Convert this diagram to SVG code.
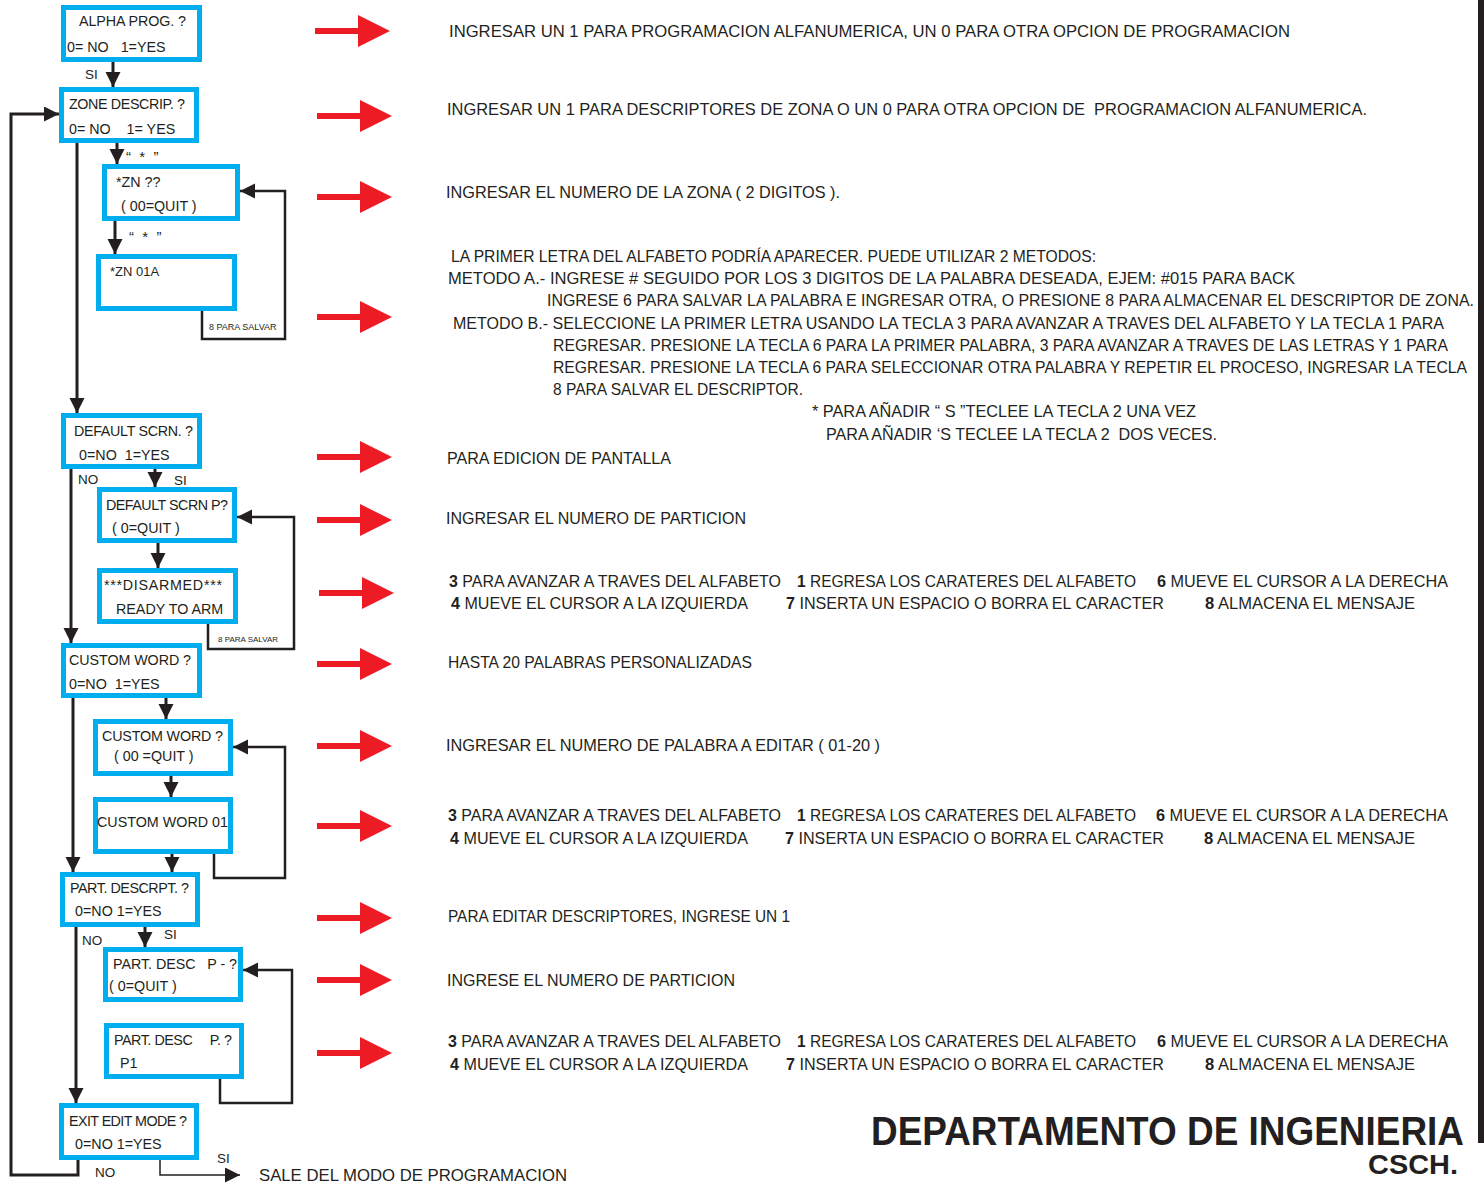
<svg xmlns="http://www.w3.org/2000/svg" xmlns:xlink="http://www.w3.org/1999/xlink" width="1484" height="1183" viewBox="0 0 1484 1183">
<style>
.box{fill:#fff;stroke:#00aeef;stroke-width:5}
.bt{font-family:"Liberation Sans",Arial,sans-serif;font-size:14.3px;fill:#231f20;white-space:pre}
.lbl{font-family:"Liberation Sans",Arial,sans-serif;font-size:13.5px;fill:#231f20;white-space:pre}
.sm{font-family:"Liberation Sans",Arial,sans-serif;font-size:9px;fill:#231f20}
.rt{font-family:"Liberation Sans",Arial,sans-serif;font-size:16.5px;fill:#231f20;white-space:pre}
.b{font-weight:bold}
.ln{fill:none;stroke:#231f20;stroke-width:3;marker-end:url(#ah)}
.lp{fill:none;stroke:#231f20;stroke-width:2.5;marker-end:url(#ah)}
.ttl{font-family:"Liberation Sans",Arial,sans-serif;font-weight:bold;fill:#231f20}
</style>
<defs>
<marker id="ah" markerWidth="16" markerHeight="16" refX="15" refY="7.5" orient="auto" markerUnits="userSpaceOnUse"><path d="M0,0 L15,7.5 L0,15 z" fill="#231f20"/></marker>
<path id="ra" d="M0,-3 L43,-3 L43,-16 L75,0 L43,16 L43,3 L0,3 z" fill="#ed1c24"/>
</defs>
<rect width="1484" height="1183" fill="#fff"/>
<rect x="1478" y="0" width="6" height="1143" fill="#231f20"/>

<g id="connectors">
<path class="ln" d="M113,62 V87"/>
<path class="ln" d="M117,143 V164"/>
<path class="ln" d="M115,221 V254"/>
<path class="lp" d="M202,311 V339 H285 V191 H240"/>
<path class="ln" d="M77,143 V413"/>
<path class="ln" d="M155,469 V487"/>
<path class="ln" d="M71,469 V643"/>
<path class="ln" d="M158,543 V568"/>
<path class="lp" d="M208,624 V649 H294 V517 H237"/>
<path class="ln" d="M166,698 V719"/>
<path class="ln" d="M73,698 V872"/>
<path class="ln" d="M171,776 V797"/>
<path class="ln" d="M172,854 V872"/>
<path class="lp" d="M214,854 V878 H285 V747 H233"/>
<path class="ln" d="M145,927 V947"/>
<path class="ln" d="M76,927 V1103"/>
<path class="lp" d="M220,1079 V1103 H292 V970 H243"/>
<path class="ln" d="M78,1160 V1175 H11 V114 H59"/>
<path fill="none" stroke="#231f20" stroke-width="1.5" marker-end="url(#ah)" d="M160,1160 V1175 H240"/>
<text class="lbl" x="85" y="79">SI</text>
<text class="lbl" x="126" y="162" style="font-size:15px">“  *  ”</text>
<text class="lbl" x="129" y="242" style="font-size:15px">“  *  ”</text>
<text class="sm" x="209" y="330">8 PARA SALVAR</text>
<text class="lbl" x="78" y="484">NO</text>
<text class="lbl" x="174" y="485">SI</text>
<text class="sm" x="218" y="642" style="font-size:8px">8 PARA SALVAR</text>
<text class="lbl" x="164" y="939">SI</text>
<text class="lbl" x="82" y="945">NO</text>
<text class="lbl" x="95" y="1177">NO</text>
<text class="lbl" x="217" y="1163">SI</text>
</g>

<g id="n1"><rect class="box" x="63.5" y="7.5" width="136" height="52"/><text class="bt" x="79" y="26" textLength="107">ALPHA PROG. ?</text><text class="bt" x="67" y="52">0= NO   1=YES</text></g>
<g id="n2"><rect class="box" x="61.5" y="89.5" width="135" height="51"/><text class="bt" x="69" y="109" textLength="116">ZONE DESCRIP. ?</text><text class="bt" x="69" y="134">0= NO    1= YES</text></g>
<g id="n3"><rect class="box" x="104.5" y="166.5" width="133" height="52"/><text class="bt" x="116" y="187">*ZN ??</text><text class="bt" x="121" y="211">( 00=QUIT )</text></g>
<g id="n4"><rect class="box" x="98.5" y="256.5" width="136" height="52"/><text class="bt" x="110" y="276" style="font-size:13px">*ZN 01A</text></g>
<g id="n5"><rect class="box" x="63.5" y="415.5" width="136" height="51"/><text class="bt" x="74" y="436" textLength="119">DEFAULT SCRN. ?</text><text class="bt" x="79" y="460">0=NO  1=YES</text></g>
<g id="n6"><rect class="box" x="99.5" y="489.5" width="135" height="51"/><text class="bt" x="106" y="510" textLength="122">DEFAULT SCRN P?</text><text class="bt" x="112" y="533">( 0=QUIT )</text></g>
<g id="n7"><rect class="box" x="99.5" y="570.5" width="136" height="51"/><text class="bt" x="104" y="590" textLength="118">***DISARMED***</text><text class="bt" x="116" y="614">READY TO ARM</text></g>
<g id="n8"><rect class="box" x="63.5" y="645.5" width="136" height="50"/><text class="bt" x="69" y="665" textLength="122">CUSTOM WORD ?</text><text class="bt" x="69" y="689">0=NO  1=YES</text></g>
<g id="n9"><rect class="box" x="95.5" y="721.5" width="135" height="52"/><text class="bt" x="102" y="741" textLength="121">CUSTOM WORD ?</text><text class="bt" x="114" y="761">( 00 =QUIT )</text></g>
<g id="n10"><rect class="box" x="95.5" y="799.5" width="135" height="52"/><text class="bt" x="97" y="827" textLength="131">CUSTOM WORD 01</text></g>
<g id="n11"><rect class="box" x="62.5" y="874.5" width="135" height="50"/><text class="bt" x="70" y="893" textLength="119">PART. DESCRPT. ?</text><text class="bt" x="75" y="916">0=NO 1=YES</text></g>
<g id="n12"><rect class="box" x="105.5" y="949.5" width="135" height="50"/><text class="bt" x="113" y="969" textLength="124">PART. DESC   P - ?</text><text class="bt" x="109" y="991">( 0=QUIT )</text></g>
<g id="n13"><rect class="box" x="106.5" y="1025.5" width="135" height="51"/><text class="bt" x="114" y="1045" textLength="118">PART. DESC     P. ?</text><text class="bt" x="120" y="1068">P1</text></g>
<g id="n14"><rect class="box" x="61.5" y="1105.5" width="135" height="52"/><text class="bt" x="69" y="1126" textLength="118">EXIT EDIT MODE ?</text><text class="bt" x="75" y="1149">0=NO 1=YES</text></g>

<g id="red-arrows">
<use xlink:href="#ra" x="315" y="31"/>
<use xlink:href="#ra" x="317" y="116"/>
<use xlink:href="#ra" x="317" y="197"/>
<use xlink:href="#ra" x="317" y="317"/>
<use xlink:href="#ra" x="317" y="457"/>
<use xlink:href="#ra" x="317" y="520"/>
<use xlink:href="#ra" x="319" y="593"/>
<use xlink:href="#ra" x="317" y="664"/>
<use xlink:href="#ra" x="317" y="746"/>
<use xlink:href="#ra" x="317" y="826"/>
<use xlink:href="#ra" x="317" y="918"/>
<use xlink:href="#ra" x="317" y="980"/>
<use xlink:href="#ra" x="317" y="1053"/>
</g>

<g id="notes">
<text class="rt" x="449" y="37" textLength="841" lengthAdjust="spacingAndGlyphs">INGRESAR UN 1 PARA PROGRAMACION ALFANUMERICA, UN 0 PARA OTRA OPCION DE PROGRAMACION</text>
<text class="rt" x="447" y="115" textLength="920" lengthAdjust="spacingAndGlyphs">INGRESAR UN 1 PARA DESCRIPTORES DE ZONA O UN 0 PARA OTRA OPCION DE  PROGRAMACION ALFANUMERICA.</text>
<text class="rt" x="446" y="198" textLength="394" lengthAdjust="spacingAndGlyphs">INGRESAR EL NUMERO DE LA ZONA ( 2 DIGITOS ).</text>
<text class="rt" x="451" y="262" textLength="645" lengthAdjust="spacingAndGlyphs">LA PRIMER LETRA DEL ALFABETO PODRÍA APARECER. PUEDE UTILIZAR 2 METODOS:</text>
<text class="rt" x="448" y="284" textLength="847" lengthAdjust="spacingAndGlyphs">METODO A.- INGRESE # SEGUIDO POR LOS 3 DIGITOS DE LA PALABRA DESEADA, EJEM: #015 PARA BACK</text>
<text class="rt" x="547" y="306" textLength="927" lengthAdjust="spacingAndGlyphs">INGRESE 6 PARA SALVAR LA PALABRA E INGRESAR OTRA, O PRESIONE 8 PARA ALMACENAR EL DESCRIPTOR DE ZONA.</text>
<text class="rt" x="453" y="329" textLength="991" lengthAdjust="spacingAndGlyphs">METODO B.- SELECCIONE LA PRIMER LETRA USANDO LA TECLA 3 PARA AVANZAR A TRAVES DEL ALFABETO Y LA TECLA 1 PARA</text>
<text class="rt" x="553" y="351" textLength="895" lengthAdjust="spacingAndGlyphs">REGRESAR. PRESIONE LA TECLA 6 PARA LA PRIMER PALABRA, 3 PARA AVANZAR A TRAVES DE LAS LETRAS Y 1 PARA</text>
<text class="rt" x="553" y="373" textLength="914" lengthAdjust="spacingAndGlyphs">REGRESAR. PRESIONE LA TECLA 6 PARA SELECCIONAR OTRA PALABRA Y REPETIR EL PROCESO, INGRESAR LA TECLA</text>
<text class="rt" x="553" y="395" textLength="250" lengthAdjust="spacingAndGlyphs">8 PARA SALVAR EL DESCRIPTOR.</text>
<text class="rt" x="812" y="417" textLength="384" lengthAdjust="spacingAndGlyphs">* PARA AÑADIR “ S ”TECLEE LA TECLA 2 UNA VEZ</text>
<text class="rt" x="826" y="440" textLength="391" lengthAdjust="spacingAndGlyphs">PARA AÑADIR ‘S TECLEE LA TECLA 2  DOS VECES.</text>
<text class="rt" x="447" y="464" textLength="224" lengthAdjust="spacingAndGlyphs">PARA EDICION DE PANTALLA</text>
<text class="rt" x="446" y="524" textLength="300" lengthAdjust="spacingAndGlyphs">INGRESAR EL NUMERO DE PARTICION</text>

<text class="rt" x="449" y="587" textLength="332" lengthAdjust="spacingAndGlyphs"><tspan class="b">3</tspan> PARA AVANZAR A TRAVES DEL ALFABETO</text>
<text class="rt" x="797" y="587" textLength="339" lengthAdjust="spacingAndGlyphs"><tspan class="b">1</tspan> REGRESA LOS CARATERES DEL ALFABETO</text>
<text class="rt" x="1157" y="587" textLength="291" lengthAdjust="spacingAndGlyphs"><tspan class="b">6</tspan> MUEVE EL CURSOR A LA DERECHA</text>
<text class="rt" x="451" y="609" textLength="297" lengthAdjust="spacingAndGlyphs"><tspan class="b">4</tspan> MUEVE EL CURSOR A LA IZQUIERDA</text>
<text class="rt" x="786" y="609" textLength="378" lengthAdjust="spacingAndGlyphs"><tspan class="b">7</tspan> INSERTA UN ESPACIO O BORRA EL CARACTER</text>
<text class="rt" x="1205" y="609" textLength="210" lengthAdjust="spacingAndGlyphs"><tspan class="b">8</tspan> ALMACENA EL MENSAJE</text>

<text class="rt" x="448" y="668" textLength="304" lengthAdjust="spacingAndGlyphs">HASTA 20 PALABRAS PERSONALIZADAS</text>
<text class="rt" x="446" y="751" textLength="434" lengthAdjust="spacingAndGlyphs">INGRESAR EL NUMERO DE PALABRA A EDITAR ( 01-20 )</text>

<text class="rt" x="448" y="821" textLength="333" lengthAdjust="spacingAndGlyphs"><tspan class="b">3</tspan> PARA AVANZAR A TRAVES DEL ALFABETO</text>
<text class="rt" x="797" y="821" textLength="339" lengthAdjust="spacingAndGlyphs"><tspan class="b">1</tspan> REGRESA LOS CARATERES DEL ALFABETO</text>
<text class="rt" x="1156" y="821" textLength="292" lengthAdjust="spacingAndGlyphs"><tspan class="b">6</tspan> MUEVE EL CURSOR A LA DERECHA</text>
<text class="rt" x="450" y="844" textLength="298" lengthAdjust="spacingAndGlyphs"><tspan class="b">4</tspan> MUEVE EL CURSOR A LA IZQUIERDA</text>
<text class="rt" x="785" y="844" textLength="379" lengthAdjust="spacingAndGlyphs"><tspan class="b">7</tspan> INSERTA UN ESPACIO O BORRA EL CARACTER</text>
<text class="rt" x="1204" y="844" textLength="211" lengthAdjust="spacingAndGlyphs"><tspan class="b">8</tspan> ALMACENA EL MENSAJE</text>

<text class="rt" x="448" y="922" textLength="342" lengthAdjust="spacingAndGlyphs">PARA EDITAR DESCRIPTORES, INGRESE UN 1</text>
<text class="rt" x="447" y="986" textLength="288" lengthAdjust="spacingAndGlyphs">INGRESE EL NUMERO DE PARTICION</text>

<text class="rt" x="448" y="1047" textLength="333" lengthAdjust="spacingAndGlyphs"><tspan class="b">3</tspan> PARA AVANZAR A TRAVES DEL ALFABETO</text>
<text class="rt" x="797" y="1047" textLength="339" lengthAdjust="spacingAndGlyphs"><tspan class="b">1</tspan> REGRESA LOS CARATERES DEL ALFABETO</text>
<text class="rt" x="1157" y="1047" textLength="291" lengthAdjust="spacingAndGlyphs"><tspan class="b">6</tspan> MUEVE EL CURSOR A LA DERECHA</text>
<text class="rt" x="450" y="1070" textLength="298" lengthAdjust="spacingAndGlyphs"><tspan class="b">4</tspan> MUEVE EL CURSOR A LA IZQUIERDA</text>
<text class="rt" x="786" y="1070" textLength="378" lengthAdjust="spacingAndGlyphs"><tspan class="b">7</tspan> INSERTA UN ESPACIO O BORRA EL CARACTER</text>
<text class="rt" x="1205" y="1070" textLength="210" lengthAdjust="spacingAndGlyphs"><tspan class="b">8</tspan> ALMACENA EL MENSAJE</text>

<text class="rt" x="259" y="1181" textLength="308" lengthAdjust="spacingAndGlyphs">SALE DEL MODO DE PROGRAMACION</text>
<text class="ttl" x="871" y="1145" font-size="40" textLength="593" lengthAdjust="spacingAndGlyphs">DEPARTAMENTO DE INGENIERIA</text>
<text class="ttl" x="1368" y="1174" font-size="28" textLength="90" lengthAdjust="spacingAndGlyphs">CSCH.</text>
</g>
</svg>
